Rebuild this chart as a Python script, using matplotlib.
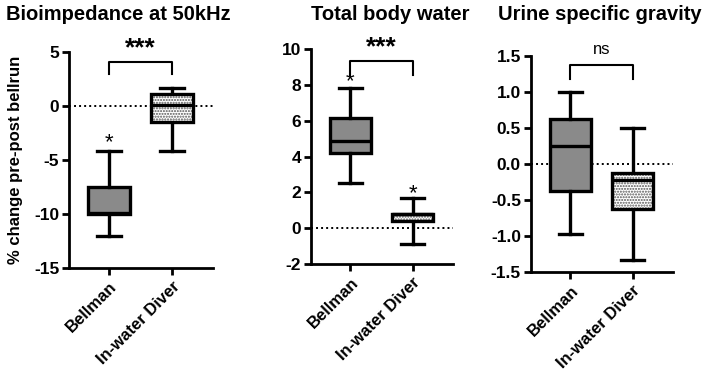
import matplotlib
matplotlib.use("Agg")
import matplotlib.pyplot as plt
from matplotlib.patches import Rectangle

plt.rcParams['font.family'] = ['Liberation Sans', 'DejaVu Sans']
plt.rcParams['font.weight'] = 'bold'

# -----------------------------------
# Data
# -----------------------------------
groups = ["Bellman", "In-water Diver"]
titles = ["Bioimpedance at 50kHz", "Total body water", "Urine specific gravity"]

# whislo, q1, med, q3, whishi per group
bia_bellman = [-12.0, -10.0, -9.9, -7.5, -4.2]
bia_diver = [-4.2, -1.5, 0.05, 1.1, 1.7]
tbw_bellman = [2.55, 4.2, 4.85, 6.15, 7.85]
tbw_diver = [-0.9, 0.4, 0.78, 0.8, 1.7]
usg_bellman = [-0.97, -0.38, 0.25, 0.63, 1.0]
usg_diver = [-1.33, -0.62, -0.22, -0.12, 0.5]

ylims = [(-15, 5), (-2, 10), (-1.5, 1.5)]
yticks = [[-15, -10, -5, 0, 5], [-2, 0, 2, 4, 6, 8, 10], [-1.5, -1.0, -0.5, 0.0, 0.5, 1.0, 1.5]]
ytick_fmt = ["{:.0f}", "{:.0f}", "{:.1f}"]

# bracket: top, leg bottom (left), leg bottom (right), label y, label
brackets = [(4.1, 2.95, 2.95, 4.25, "***"),
            (9.33, 8.55, 8.55, 9.4, "***"),
            (1.37, 1.18, 1.18, 1.48, "ns")]
# single asterisks: (group index, y)
single_stars = [[(0, -3.4)], [(0, 8.15), (1, 1.95)], []]

positions = [(0.0977, 0.2815, 0.2040, 0.5791),
             (0.4400, 0.2920, 0.2017, 0.5766),
             (0.7517, 0.2708, 0.2016, 0.5791)]

data = [(bia_bellman, bia_diver), (tbw_bellman, tbw_diver), (usg_bellman, usg_diver)]

fig = plt.figure(figsize=(7.06, 3.73), dpi=100)

LW = 2.4
BOX_W = 0.66

for i in range(3):
    ax = fig.add_axes(positions[i])
    stats = []
    for name, s in zip(groups, data[i]):
        stats.append(dict(label=name, whislo=s[0], q1=s[1], med=s[2], q3=s[3], whishi=s[4]))

    ax.axhline(0, color="black", lw=1.4, ls=(0, (1, 1.6)), zorder=1)

    bp = ax.bxp(stats, positions=[0, 1], widths=BOX_W, patch_artist=True,
                showfliers=False, capwidths=0.38,
                boxprops=dict(linewidth=LW, edgecolor="black"),
                whiskerprops=dict(linewidth=LW, color="black"),
                capprops=dict(linewidth=LW, color="black"),
                medianprops=dict(linewidth=LW, color="black", zorder=4))
    bp["boxes"][0].set_facecolor("#8a8a8a")
    bp["boxes"][1].set_facecolor("none")
    bp["boxes"][1].set_zorder(3)

    # dotted fill for the diver box
    s = data[i][1]
    ax.add_patch(Rectangle((1 - BOX_W / 2, s[1]), BOX_W, s[3] - s[1],
                           facecolor="white", edgecolor="#555555", hatch="......",
                           lw=0, zorder=2.5))

    ax.set_xlim(-0.64, 1.65)
    ax.set_ylim(*ylims[i])
    ax.set_yticks(yticks[i])
    ax.set_yticklabels([ytick_fmt[i].format(v) for v in yticks[i]])
    ax.set_xticks([0, 1])
    ax.set_xticklabels(groups, rotation=45, ha="right", rotation_mode="anchor")

    for side in ["top", "right"]:
        ax.spines[side].set_visible(False)
    for side in ["left", "bottom"]:
        ax.spines[side].set_linewidth(2.0)
    ax.tick_params(axis="y", width=2.0, length=5, labelsize=12.5, pad=2)
    ax.tick_params(axis="x", width=2.0, length=5, labelsize=12, pad=3)

    top, lb, rb, ty, lab = brackets[i]
    ax.plot([0, 0, 1, 1], [lb, top, top, rb], color="black", lw=1.5, clip_on=False)
    if lab == "ns":
        ax.text(0.5, ty, lab, ha="center", va="bottom", fontsize=12, fontweight="normal")
    else:
        ax.text(0.5, ty, lab, ha="center", va="bottom", fontsize=19, fontweight="bold")
    for gi, yy in single_stars[i]:
        ax.text(gi, yy, "*", ha="center", va="center", fontsize=16, fontweight="normal")

    if i == 0:
        ax.set_ylabel("% change pre-post bellrun", fontsize=12, fontweight="bold", labelpad=8)

title_x = [0.168, 0.553, 0.850]
for tx, t in zip(title_x, titles):
    fig.text(tx, 0.962, t, ha="center", va="center", fontsize=14.5, fontweight="bold")

fig.savefig("out.png", dpi=100)
